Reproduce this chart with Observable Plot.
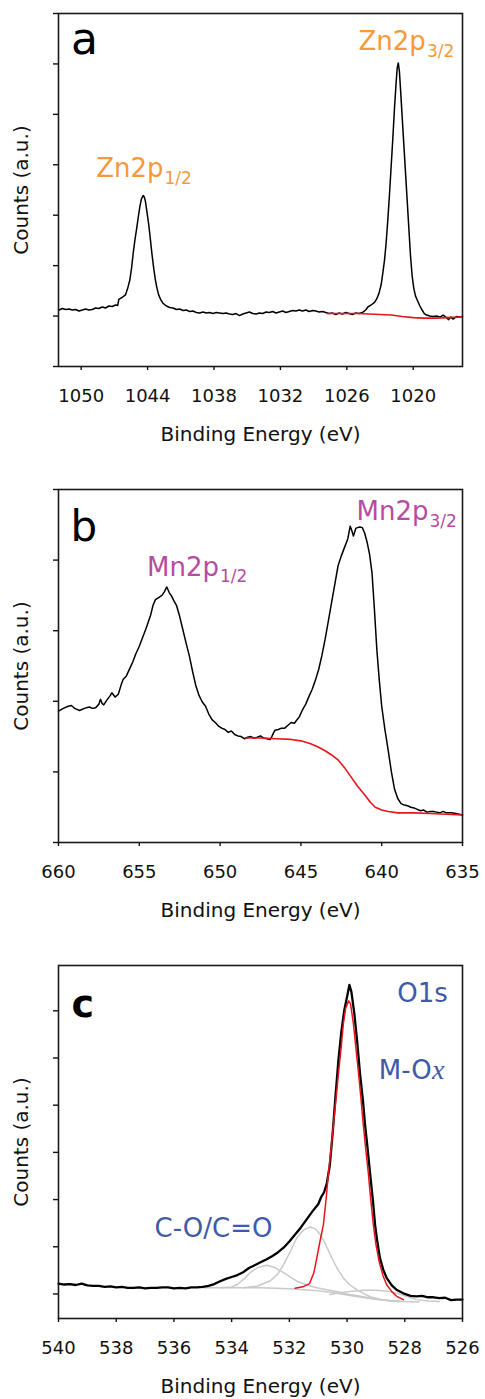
<!DOCTYPE html>
<html>
<head>
<meta charset="utf-8">
<script src="https://cdn.jsdelivr.net/npm/d3@7"></script>
<script src="https://cdn.jsdelivr.net/npm/@observablehq/plot@0.6"></script>
<style>
  html, body { margin: 0; padding: 0; background: #fff; }
  #chart svg { display: block; }
</style>
</head>
<body>
<div id="chart"></div>
<script>
// ---------- Panel a: Zn 2p ----------
const znTicksX = [1050, 1044, 1038, 1032, 1026, 1020];
const znTicksY = [0, 1, 2, 3, 4, 5, 6, 7];
const znSpectrum = [
  [1052.0,1.12],[1051.7,1.15],[1051.4,1.13],[1051.1,1.14],[1050.8,1.12],[1050.5,1.13],[1050.2,1.10],[1049.9,1.12],
  [1049.6,1.14],[1049.3,1.12],[1049.0,1.13],[1048.7,1.16],[1048.4,1.15],[1048.1,1.18],[1047.8,1.16],[1047.5,1.20],
  [1047.2,1.19],[1046.9,1.22],[1046.7,1.21],[1046.6,1.33],[1046.3,1.37],[1046.0,1.42],[1045.8,1.55],[1045.6,1.72],
  [1045.45,1.95],[1045.3,2.25],[1045.15,2.50],[1045.0,2.72],[1044.85,2.95],[1044.7,3.17],[1044.55,3.33],[1044.4,3.39],
  [1044.3,3.36],[1044.2,3.28],[1044.05,3.05],[1043.9,2.82],[1043.75,2.52],[1043.6,2.22],[1043.45,1.95],[1043.3,1.72],
  [1043.15,1.55],[1043.0,1.42],[1042.8,1.32],[1042.6,1.25],[1042.3,1.20],[1042.0,1.17],[1041.7,1.16],[1041.4,1.13],
  [1041.1,1.14],[1040.8,1.11],[1040.5,1.12],[1040.2,1.09],[1039.9,1.10],[1039.6,1.07],[1039.3,1.06],[1039.0,1.08],
  [1038.7,1.06],[1038.4,1.07],[1038.1,1.05],[1037.8,1.07],[1037.5,1.06],[1037.2,1.05],[1036.9,1.06],[1036.6,1.04],
  [1036.3,1.03],[1036.0,1.05],[1035.7,1.01],[1035.4,1.04],[1035.1,1.06],[1034.8,1.08],[1034.5,1.05],[1034.2,1.04],
  [1033.9,1.06],[1033.6,1.05],[1033.3,1.08],[1033.0,1.07],[1032.7,1.09],[1032.4,1.06],[1032.1,1.08],[1031.8,1.10],
  [1031.5,1.07],[1031.2,1.09],[1030.9,1.11],[1030.6,1.10],[1030.3,1.12],[1030.0,1.10],[1029.7,1.12],[1029.4,1.09],
  [1029.1,1.11],[1028.8,1.10],[1028.5,1.08],[1028.2,1.09],[1027.9,1.07],[1027.6,1.05],[1027.3,1.06],[1027.0,1.03],
  [1026.7,1.06],[1026.4,1.04],[1026.1,1.07],[1025.8,1.05],[1025.5,1.03],[1025.2,1.06],[1024.9,1.05],[1024.6,1.07],
  [1024.3,1.12],[1024.1,1.18],[1023.8,1.22],[1023.5,1.27],[1023.3,1.34],[1023.1,1.45],[1022.9,1.62],[1022.75,1.85],
  [1022.6,2.10],[1022.45,2.45],[1022.3,2.90],[1022.15,3.40],[1022.0,3.95],[1021.85,4.50],[1021.7,5.10],[1021.55,5.62],
  [1021.45,5.92],[1021.35,6.02],[1021.25,5.85],[1021.15,5.50],[1021.0,4.95],[1020.85,4.40],[1020.7,3.85],[1020.55,3.30],
  [1020.4,2.75],[1020.25,2.20],[1020.1,1.80],[1019.95,1.55],[1019.8,1.40],[1019.6,1.30],[1019.4,1.20],[1019.2,1.12],
  [1019.0,1.05],[1018.8,1.02],[1018.5,1.00],[1018.2,0.99],[1017.9,1.00],[1017.6,0.98],[1017.3,1.02],[1017.0,0.97],
  [1016.8,0.93],[1016.6,0.98],[1016.4,0.94],[1016.1,0.99],[1015.8,0.98],[1015.55,0.99]
];
const znBackground = [
  [1027.8,1.05],[1027.0,1.05],[1026.0,1.05],[1025.0,1.05],[1024.0,1.04],[1023.0,1.03],[1022.0,1.02],
  [1021.0,0.99],[1020.0,0.97],[1019.0,0.96],[1018.0,0.96],[1017.0,0.97],[1016.0,0.98],[1015.55,0.99]
];

// ---------- Panel b: Mn 2p ----------
const mnTicksX = [660, 655, 650, 645, 640, 635];
const mnTicksY = [0, 1, 2, 3, 4, 5];
const mnSpectrum = [
  [660.0,1.86],[659.7,1.90],[659.4,1.93],[659.2,1.94],[659.0,1.90],[658.7,1.87],[658.4,1.90],[658.1,1.92],
  [657.9,1.90],[657.7,1.91],[657.5,1.96],[657.4,2.03],[657.3,1.97],[657.2,1.95],[657.0,2.02],[656.8,2.08],
  [656.7,2.12],[656.5,2.06],[656.3,2.10],[656.1,2.25],[656.0,2.31],[655.8,2.36],[655.6,2.46],[655.4,2.56],
  [655.2,2.68],[655.0,2.78],[654.8,2.90],[654.6,3.02],[654.45,3.12],[654.3,3.22],[654.15,3.36],[654.0,3.44],
  [653.8,3.47],[653.6,3.50],[653.45,3.55],[653.3,3.62],[653.15,3.54],[653.0,3.49],[652.85,3.42],[652.7,3.36],
  [652.5,3.20],[652.3,3.01],[652.1,2.82],[651.9,2.64],[651.7,2.42],[651.5,2.22],[651.3,2.08],[651.1,1.99],
  [650.9,1.93],[650.7,1.82],[650.5,1.74],[650.3,1.70],[650.1,1.65],[649.9,1.62],[649.7,1.60],[649.5,1.56],
  [649.3,1.58],[649.1,1.53],[648.9,1.51],[648.7,1.50],[648.5,1.47],[648.3,1.49],[648.1,1.50],[647.9,1.48],
  [647.7,1.49],[647.5,1.51],[647.3,1.48],[647.1,1.47],[646.9,1.46],[646.8,1.50],[646.7,1.55],[646.6,1.59],
  [646.4,1.60],[646.2,1.62],[646.0,1.62],[645.8,1.66],[645.6,1.70],[645.4,1.69],[645.3,1.72],[645.1,1.78],
  [644.9,1.88],[644.7,1.96],[644.5,2.07],[644.3,2.17],[644.1,2.30],[643.9,2.45],[643.7,2.65],[643.5,2.88],
  [643.3,3.14],[643.1,3.40],[642.9,3.66],[642.7,3.92],[642.5,4.06],[642.3,4.18],[642.1,4.30],[641.95,4.48],
  [641.85,4.42],[641.75,4.34],[641.6,4.45],[641.5,4.46],[641.35,4.47],[641.2,4.46],[641.05,4.38],[640.9,4.25],
  [640.75,4.08],[640.6,3.82],[640.45,3.30],[640.3,2.73],[640.15,2.30],[640.0,1.93],[639.8,1.60],[639.6,1.31],
  [639.4,1.00],[639.2,0.75],[639.0,0.62],[638.8,0.55],[638.6,0.53],[638.4,0.52],[638.2,0.50],[638.0,0.49],
  [637.8,0.47],[637.6,0.45],[637.4,0.46],[637.2,0.43],[637.0,0.44],[636.8,0.44],[636.6,0.43],[636.4,0.42],
  [636.2,0.44],[636.0,0.42],[635.7,0.42],[635.4,0.41],[635.0,0.39]
];
const mnBackground = [
  [648.4,1.48],[647.5,1.48],[646.5,1.47],[645.6,1.46],[645.0,1.44],[644.4,1.40],[644.0,1.36],[643.5,1.30],
  [643.1,1.24],[642.7,1.17],[642.3,1.06],[641.9,0.93],[641.5,0.80],[641.0,0.66],[640.7,0.57],[640.4,0.50],
  [640.0,0.46],[639.6,0.44],[639.0,0.42],[638.0,0.42],[637.0,0.41],[636.0,0.40],[635.0,0.39]
];

// ---------- Panel c: O 1s ----------
const oTicksX = [540, 538, 536, 534, 532, 530, 528, 526];
const oTicksY = [0, 1, 2, 3, 4, 5, 6];
const oSpectrum = [
  [540.0,0.22],[539.8,0.20],[539.6,0.21],[539.4,0.19],[539.2,0.22],[539.0,0.18],[538.8,0.17],[538.6,0.17],
  [538.4,0.15],[538.2,0.16],[538.0,0.14],[537.8,0.15],[537.6,0.13],[537.4,0.13],[537.2,0.14],[537.0,0.12],
  [536.8,0.13],[536.6,0.13],[536.4,0.14],[536.2,0.14],[536.0,0.12],[535.8,0.13],[535.6,0.12],[535.4,0.14],
  [535.2,0.14],[535.0,0.15],[534.8,0.17],[534.6,0.21],[534.4,0.27],[534.2,0.32],[534.0,0.36],[533.8,0.40],
  [533.6,0.46],[533.4,0.55],[533.2,0.61],[533.0,0.67],[532.8,0.73],[532.6,0.80],[532.4,0.88],[532.2,0.98],
  [532.0,1.11],[531.8,1.26],[531.6,1.41],[531.4,1.58],[531.2,1.75],[531.0,1.90],[530.9,2.05],[530.8,2.15],
  [530.7,2.35],[530.6,2.72],[530.5,3.40],[530.4,4.20],[530.3,4.95],[530.2,5.55],[530.1,6.00],[530.0,6.30],
  [529.92,6.55],[529.85,6.40],[529.75,5.95],[529.65,5.35],[529.55,4.66],[529.45,4.10],[529.38,3.60],[529.3,3.15],
  [529.2,2.54],[529.1,1.95],[529.03,1.47],[528.95,1.10],[528.86,0.76],[528.75,0.52],[528.63,0.34],[528.45,0.18],
  [528.29,0.09],[528.0,0.00],[527.8,-0.04],[527.6,-0.05],[527.4,-0.04],[527.2,-0.07],[527.0,-0.07],[526.8,-0.09],
  [526.6,-0.08],[526.4,-0.13],[526.2,-0.12],[526.0,-0.12]
];
const oMetalOxide = [
  [531.8,0.12],[531.5,0.16],[531.3,0.22],[531.15,0.45],[531.05,0.76],[530.95,1.08],[530.82,1.47],[530.72,2.05],
  [530.65,2.54],[530.55,3.10],[530.47,3.60],[530.38,4.15],[530.3,4.66],[530.2,5.25],[530.13,5.72],[530.05,6.05],
  [529.95,6.21],[529.88,6.15],[529.78,5.72],[529.7,5.25],[529.6,4.66],[529.52,4.15],[529.44,3.60],[529.35,3.05],
  [529.26,2.54],[529.18,2.00],[529.09,1.47],[529.0,1.05],[528.9,0.72],[528.86,0.62],[528.75,0.38],[528.63,0.20],
  [528.45,0.05],[528.28,-0.05],[528.05,-0.12]
];
const oComp1 = [
  [533.6,0.13],[533.1,0.17],[532.66,0.28],[532.4,0.42],[532.2,0.62],[531.95,0.92],[531.74,1.19],[531.5,1.36],
  [531.28,1.42],[531.1,1.38],[530.93,1.26],[530.75,1.06],[530.59,0.84],[530.35,0.55],[530.13,0.34],[529.9,0.19],
  [529.67,0.09],[529.4,0.00],[529.2,-0.06],[528.8,-0.12],[528.5,-0.15],[528.2,-0.16]
];
const oComp2 = [
  [534.4,0.13],[534.0,0.15],[533.8,0.20],[533.55,0.33],[533.36,0.45],[533.1,0.56],[532.78,0.61],[532.5,0.56],
  [532.2,0.45],[531.95,0.35],[531.74,0.27],[531.4,0.19],[531.05,0.13],[530.7,0.09],[530.36,0.05],[530.0,0.00],
  [529.44,-0.06],[529.0,-0.11],[528.5,-0.15],[528.2,-0.16]
];
const oComp3 = [
  [530.6,-0.01],[530.2,0.03],[529.8,0.06],[529.4,0.08],[529.0,0.08],[528.6,0.06],[528.3,0.02],[528.0,-0.04],
  [527.6,-0.12],[527.2,-0.15],[526.8,-0.16]
];
const oBackground = [
  [535.0,0.13],[534.0,0.13],[533.0,0.13],[532.0,0.11],[531.0,0.07],[530.5,0.03],[530.0,-0.02],[529.5,-0.07],
  [529.0,-0.11],[528.5,-0.14],[528.0,-0.16],[527.5,-0.17]
];

const toRows = (arr) => arr.map(([be, c]) => ({be, c}));

const ORANGE = "#F5993A", MAGENTA = "#B64C9F", BLUE = "#3F5AA8", RED = "#E8141B", GRAY = "#C9C9C9";
const FONT = "DejaVu Sans";

function panel({height, xDomain, yDomain, xTicks, yTicks, marks}) {
  return Plot.plot({
    width: 485,
    height,
    marginLeft: 58,
    marginRight: 23,
    marginTop: 13,
    marginBottom: height - 13 - 353,
    x: {domain: xDomain},
    y: {domain: yDomain},
    style: {fontFamily: FONT, fontSize: "18px", color: "#111", background: "#fff", overflow: "visible"},
    marks: [
      Plot.axisX({ticks: xTicks, tickSize: 4, tickPadding: 19, tickFormat: (d) => String(d), label: null, strokeWidth: 1.4}),
      Plot.axisY({ticks: yTicks, tickSize: 5, tickFormat: () => "", label: null, strokeWidth: 1.4}),
      ...marks,
      Plot.text(["Binding Energy (eV)"], {frameAnchor: "bottom", textAnchor: "middle", lineAnchor: "bottom", dy: 74.5, fontSize: 20, fill: "#111"}),
      Plot.text(["Counts (a.u.)"], {frameAnchor: "left", rotate: -90, textAnchor: "middle", lineAnchor: "middle", dx: -37, fontSize: 20, fill: "#111"}),
      Plot.frame({stroke: "#1a1a1a", strokeWidth: 1.6})
    ]
  });
}

const lbl = (t, o) => Plot.text([t], {frameAnchor: "top-left", textAnchor: "start", lineAnchor: "bottom", ...o});

const pa = panel({
  height: 476, xDomain: [1052.05, 1015.55], yDomain: [0, 7], xTicks: znTicksX, yTicks: znTicksY,
  marks: [
    Plot.line(toRows(znSpectrum), {x: "be", y: "c", stroke: "#000", strokeWidth: 1.5}),
    Plot.line(toRows(znBackground), {x: "be", y: "c", stroke: RED, strokeWidth: 1.6}),
    lbl("a", {dx: 12.5, dy: 40.3, fontSize: 44, fill: "#000"}),
    lbl("Zn2p", {dx: 300, dy: 36.3, fontSize: 26, fill: ORANGE}),
    lbl("3/2", {dx: 368.5, dy: 43, fontSize: 17, fill: ORANGE}),
    lbl("Zn2p", {dx: 37.7, dy: 163.7, fontSize: 26, fill: ORANGE}),
    lbl("1/2", {dx: 106, dy: 170.5, fontSize: 17, fill: ORANGE})
  ]
});

const pb = panel({
  height: 476, xDomain: [660, 635], yDomain: [0, 5], xTicks: mnTicksX, yTicks: mnTicksY,
  marks: [
    Plot.line(toRows(mnSpectrum), {x: "be", y: "c", stroke: "#000", strokeWidth: 1.5}),
    Plot.line(toRows(mnBackground), {x: "be", y: "c", stroke: RED, strokeWidth: 1.6}),
    lbl("b", {dx: 12, dy: 51, fontSize: 42, fill: "#000"}),
    lbl("Mn2p", {dx: 88.5, dy: 86, fontSize: 26, fill: MAGENTA}),
    lbl("1/2", {dx: 161.5, dy: 92.5, fontSize: 17, fill: MAGENTA}),
    lbl("Mn2p", {dx: 298, dy: 30.3, fontSize: 26, fill: MAGENTA}),
    lbl("3/2", {dx: 371, dy: 37, fontSize: 17, fill: MAGENTA})
  ]
});

const pc = panel({
  height: 447, xDomain: [540, 526], yDomain: [-0.52, 6.96], xTicks: oTicksX, yTicks: oTicksY,
  marks: [
    Plot.line(toRows(oBackground), {x: "be", y: "c", stroke: GRAY, strokeWidth: 1.5}),
    Plot.line(toRows(oComp3), {x: "be", y: "c", stroke: GRAY, strokeWidth: 1.5}),
    Plot.line(toRows(oComp2), {x: "be", y: "c", stroke: GRAY, strokeWidth: 1.5}),
    Plot.line(toRows(oComp1), {x: "be", y: "c", stroke: GRAY, strokeWidth: 1.5}),
    Plot.line(toRows(oSpectrum), {x: "be", y: "c", stroke: "#000", strokeWidth: 2.3}),
    Plot.line(toRows(oMetalOxide), {x: "be", y: "c", stroke: RED, strokeWidth: 1.5}),
    lbl("c", {dx: 13, dy: 51.7, fontSize: 38, fontWeight: "bold", fill: "#000"}),
    lbl("O1s", {dx: 338.7, dy: 36.7, fontSize: 26, fill: BLUE}),
    lbl("M-O", {dx: 320.3, dy: 113.3, fontSize: 26, fill: BLUE}),
    lbl("x", {dx: 373.6, dy: 113.3, fontSize: 28, fontStyle: "italic", fontFamily: "Liberation Serif", fill: BLUE}),
    lbl("C-O/C=O", {dx: 96, dy: 271, fontSize: 26, fill: BLUE})
  ]
});

const chart = document.getElementById("chart");
chart.append(pa, pb, pc);
</script>
</body>
</html>
